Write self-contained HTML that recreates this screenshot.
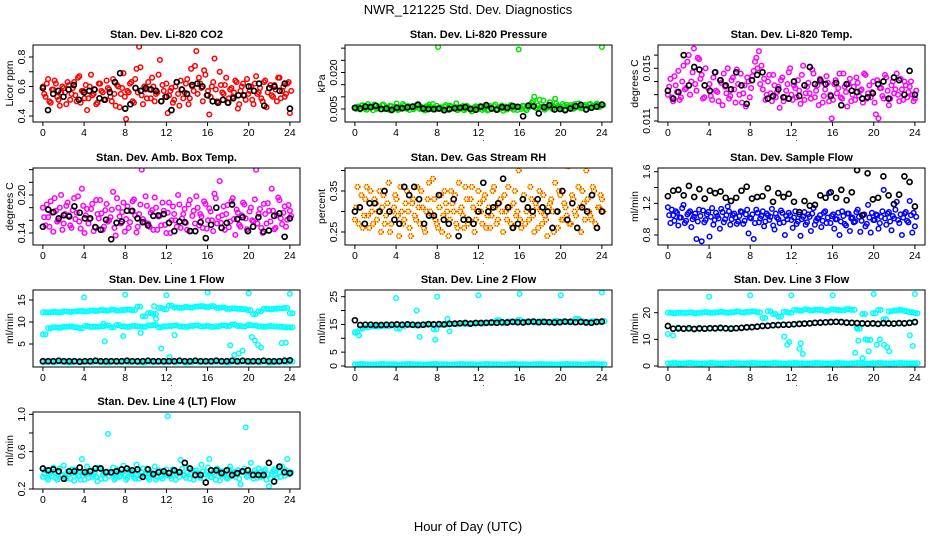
<!DOCTYPE html>
<html><head><meta charset="utf-8">
<style>
html,body{margin:0;padding:0;background:#fff;}
svg{display:block;font-family:"Liberation Sans",Arial,sans-serif;}
</style></head>
<body>
<svg id="chart" width="936" height="540" viewBox="0 0 936 540">
<text x="468" y="14" text-anchor="middle" font-size="13">NWR_121225  Std. Dev. Diagnostics</text>
<text x="468" y="531" text-anchor="middle" font-size="13">Hour of Day (UTC)</text>
</svg>
<script>
// ---- data ----
const xTicks=[0,4,8,12,16,20,24];
const co2Red=[0.60,0.53,0.65,0.49,0.58,0.62,0.51,0.56,0.59,0.48,0.61,0.55,0.63,0.50,0.67,0.57,0.52,0.44,0.60,0.54,0.58,0.49,0.62,0.56,0.51,0.59,0.53,0.65,0.47,0.60,0.55,0.69,0.38,0.56,0.63,0.49,0.72,0.87,0.54,0.60,0.52,0.58,0.66,0.50,0.56,0.78,0.61,0.53,0.42,0.57,0.49,0.60,0.55,0.64,0.52,0.62,0.48,0.72,0.57,0.84,0.66,0.59,0.71,0.54,0.41,0.60,0.79,0.50,0.70,0.56,0.61,0.49,0.58,0.53,0.64,0.45,0.57,0.62,0.51,0.55,0.60,0.48,0.67,0.56,0.52,0.63,0.46,0.59,0.54,0.61,0.50,0.66,0.57,0.53,0.62,0.42];
const co2Red2=[0.55,0.62,0.50,0.58,0.64,0.53,0.47,0.60,0.56,0.63,0.51,0.59,0.54,0.66,0.49,0.57,0.61,0.52,0.68,0.55,0.48,0.62,0.57,0.51,0.64,0.58,0.50,0.55,0.61,0.46,0.59,0.53,0.57,0.62,0.50,0.65,0.56,0.73,0.48,0.58,0.63,0.52,0.60,0.55,0.68,0.50,0.57,0.62,0.54,0.59,0.51,0.63,0.47,0.58,0.56,0.65,0.52,0.60,0.74,0.55,0.62,0.50,0.68,0.57,0.53,0.63,0.58,0.49,0.61,0.55,0.66,0.52,0.59,0.56,0.63,0.48,0.60,0.54,0.65,0.57,0.51,0.62,0.55,0.59,0.50,0.64,0.56,0.61,0.53,0.58,0.66,0.52,0.60,0.55,0.63,0.57];
const co2Black=[0.59,0.44,0.55,0.57,0.53,0.58,0.61,0.51,0.56,0.57,0.58,0.52,0.51,0.56,0.63,0.69,0.45,0.48,0.59,0.57,0.59,0.58,0.57,0.50,0.53,0.44,0.63,0.58,0.55,0.61,0.62,0.60,0.54,0.50,0.49,0.51,0.49,0.52,0.54,0.54,0.60,0.57,0.62,0.47,0.59,0.60,0.57,0.62,0.45];
const presGreen=[0.0055,0.0060,0.0048,0.0065,0.0052,0.0070,0.0058,0.0045,0.0062,0.0055,0.0050,0.0068,0.0057,0.0047,0.0061,0.0053,0.0072,0.0049,0.0058,0.0064,0.0051,0.0046,0.0060,0.0055,0.0067,0.0050,0.0056,0.0044,0.0062,0.0053,0.0070,0.0048,0.0305,0.0057,0.0051,0.0066,0.0046,0.0060,0.0054,0.0073,0.0049,0.0058,0.0045,0.0063,0.0052,0.0040,0.0057,0.0050,0.0061,0.0046,0.0055,0.0044,0.0062,0.0051,0.0068,0.0048,0.0057,0.0043,0.0060,0.0052,0.0066,0.0047,0.0055,0.0295,0.0050,0.0062,0.0045,0.0058,0.0075,0.0100,0.0052,0.0088,0.0060,0.0047,0.0056,0.0078,0.0050,0.0092,0.0063,0.0054,0.0070,0.0048,0.0059,0.0066,0.0051,0.0057,0.0073,0.0053,0.0061,0.0049,0.0068,0.0056,0.0062,0.0072,0.0058,0.0305];
const presGreen2=[0.0050,0.0058,0.0064,0.0053,0.0047,0.0061,0.0056,0.0068,0.0051,0.0059,0.0066,0.0049,0.0055,0.0063,0.0052,0.0060,0.0046,0.0057,0.0070,0.0053,0.0062,0.0056,0.0049,0.0065,0.0054,0.0059,0.0047,0.0061,0.0068,0.0051,0.0057,0.0063,0.0050,0.0055,0.0060,0.0048,0.0064,0.0052,0.0059,0.0045,0.0056,0.0062,0.0050,0.0058,0.0047,0.0054,0.0061,0.0049,0.0056,0.0052,0.0059,0.0047,0.0055,0.0062,0.0050,0.0057,0.0064,0.0052,0.0048,0.0058,0.0054,0.0061,0.0046,0.0057,0.0063,0.0051,0.0059,0.0068,0.0082,0.0055,0.0064,0.0058,0.0085,0.0052,0.0061,0.0066,0.0056,0.0072,0.0059,0.0050,0.0063,0.0067,0.0055,0.0060,0.0070,0.0058,0.0062,0.0054,0.0066,0.0060,0.0071,0.0057,0.0064,0.0068,0.0061,0.0066];
const presBlack=[0.0055,0.0052,0.0060,0.0058,0.0063,0.0050,0.0052,0.0046,0.0055,0.0053,0.0057,0.0060,0.0068,0.0052,0.0050,0.0049,0.0052,0.0045,0.0050,0.0053,0.0055,0.0058,0.0050,0.0047,0.0060,0.0066,0.0052,0.0047,0.0058,0.0055,0.0062,0.0059,0.0020,0.0064,0.0061,0.0032,0.0058,0.0066,0.0048,0.0050,0.0045,0.0052,0.0062,0.0067,0.0048,0.0055,0.0060,0.0068];
const tempMagenta=[0.0130,0.0142,0.0125,0.0137,0.0148,0.0128,0.0152,0.0135,0.0160,0.0140,0.0165,0.0133,0.0157,0.0145,0.0128,0.0170,0.0138,0.0126,0.0147,0.0132,0.0141,0.0122,0.0136,0.0150,0.0129,0.0143,0.0124,0.0138,0.0146,0.0131,0.0121,0.0140,0.0135,0.0148,0.0158,0.0163,0.0152,0.0142,0.0130,0.0145,0.0125,0.0137,0.0132,0.0120,0.0143,0.0128,0.0138,0.0150,0.0126,0.0135,0.0141,0.0123,0.0152,0.0131,0.0139,0.0127,0.0146,0.0133,0.0122,0.0140,0.0129,0.0144,0.0125,0.0112,0.0138,0.0131,0.0146,0.0127,0.0136,0.0121,0.0142,0.0130,0.0126,0.0139,0.0133,0.0124,0.0145,0.0131,0.0128,0.0140,0.0115,0.0112,0.0135,0.0127,0.0143,0.0122,0.0137,0.0131,0.0146,0.0125,0.0134,0.0140,0.0128,0.0136,0.0130,0.0127];
const tempMagenta2=[0.0136,0.0128,0.0144,0.0132,0.0126,0.0140,0.0134,0.0155,0.0130,0.0147,0.0138,0.0158,0.0142,0.0127,0.0150,0.0135,0.0129,0.0143,0.0133,0.0125,0.0139,0.0146,0.0131,0.0127,0.0141,0.0134,0.0149,0.0130,0.0124,0.0137,0.0143,0.0128,0.0144,0.0155,0.0150,0.0138,0.0134,0.0126,0.0140,0.0131,0.0145,0.0128,0.0136,0.0141,0.0125,0.0133,0.0147,0.0130,0.0137,0.0128,0.0133,0.0145,0.0126,0.0136,0.0131,0.0149,0.0128,0.0137,0.0142,0.0124,0.0134,0.0139,0.0130,0.0126,0.0141,0.0135,0.0128,0.0146,0.0132,0.0138,0.0125,0.0136,0.0143,0.0129,0.0134,0.0146,0.0127,0.0137,0.0132,0.0124,0.0141,0.0135,0.0129,0.0145,0.0133,0.0127,0.0140,0.0134,0.0130,0.0142,0.0126,0.0137,0.0132,0.0140,0.0125,0.0133];
const tempBlack=[0.0133,0.0127,0.0132,0.0160,0.0137,0.0151,0.0149,0.0137,0.0133,0.0147,0.0141,0.0137,0.0134,0.0147,0.0137,0.0123,0.0141,0.0145,0.0147,0.0127,0.0129,0.0134,0.0128,0.0127,0.0140,0.0129,0.0137,0.0151,0.0138,0.0141,0.0138,0.0129,0.0139,0.0122,0.0138,0.0133,0.0132,0.0127,0.0128,0.0131,0.0138,0.0140,0.0127,0.0143,0.0141,0.0130,0.0148,0.0130];
const ambMagenta=[0.180,0.152,0.165,0.190,0.142,0.175,0.160,0.200,0.155,0.183,0.168,0.148,0.195,0.172,0.158,0.210,0.140,0.178,0.162,0.186,0.150,0.170,0.192,0.145,0.176,0.158,0.165,0.205,0.136,0.180,0.155,0.188,0.162,0.148,0.174,0.193,0.141,0.170,0.240,0.158,0.183,0.150,0.176,0.196,0.145,0.167,0.188,0.153,0.172,0.140,0.182,0.160,0.200,0.148,0.170,0.156,0.185,0.143,0.175,0.198,0.152,0.166,0.190,0.147,0.179,0.160,0.202,0.155,0.222,0.168,0.145,0.184,0.158,0.195,0.137,0.172,0.150,0.188,0.163,0.143,0.180,0.158,0.240,0.170,0.148,0.186,0.155,0.175,0.210,0.146,0.168,0.192,0.154,0.182,0.161,0.175];
const ambMagenta2=[0.165,0.185,0.150,0.172,0.195,0.158,0.180,0.145,0.170,0.188,0.152,0.176,0.162,0.198,0.147,0.183,0.168,0.155,0.178,0.143,0.192,0.163,0.171,0.150,0.186,0.160,0.177,0.148,0.195,0.166,0.173,0.142,0.182,0.157,0.190,0.168,0.150,0.185,0.162,0.198,0.155,0.172,0.145,0.180,0.166,0.152,0.175,0.140,0.188,0.160,0.170,0.150,0.185,0.163,0.178,0.145,0.192,0.167,0.155,0.180,0.170,0.148,0.186,0.160,0.174,0.143,0.195,0.165,0.156,0.182,0.170,0.149,0.190,0.162,0.177,0.153,0.168,0.185,0.146,0.174,0.160,0.193,0.155,0.178,0.140,0.170,0.187,0.158,0.175,0.148,0.196,0.163,0.172,0.150,0.184,0.167];
const ambBlack=[0.150,0.177,0.173,0.163,0.168,0.166,0.182,0.172,0.163,0.163,0.149,0.145,0.161,0.130,0.156,0.158,0.175,0.175,0.163,0.157,0.152,0.167,0.168,0.170,0.156,0.143,0.158,0.157,0.143,0.143,0.157,0.132,0.153,0.180,0.148,0.156,0.185,0.162,0.165,0.143,0.150,0.165,0.142,0.144,0.167,0.171,0.134,0.163];
const rhOrange=[0.28,0.36,0.31,0.26,0.33,0.29,0.35,0.27,0.32,0.30,0.25,0.34,0.29,0.37,0.27,0.31,0.33,0.24,0.30,0.28,0.35,0.26,0.32,0.29,0.36,0.27,0.31,0.25,0.33,0.30,0.38,0.28,0.26,0.34,0.29,0.32,0.24,0.35,0.30,0.27,0.37,0.31,0.26,0.33,0.28,0.36,0.25,0.30,0.32,0.27,0.34,0.29,0.26,0.35,0.31,0.28,0.33,0.25,0.30,0.36,0.27,0.32,0.29,0.40,0.26,0.34,0.30,0.28,0.33,0.25,0.31,0.35,0.27,0.29,0.24,0.32,0.30,0.37,0.26,0.34,0.28,0.31,0.41,0.27,0.33,0.29,0.36,0.25,0.32,0.40,0.30,0.28,0.35,0.26,0.31,0.33];
const rhOrange2=[0.31,0.27,0.34,0.29,0.36,0.26,0.30,0.33,0.28,0.35,0.31,0.27,0.32,0.25,0.30,0.34,0.29,0.36,0.27,0.32,0.30,0.24,0.33,0.28,0.31,0.35,0.26,0.30,0.37,0.29,0.33,0.27,0.31,0.25,0.35,0.30,0.28,0.32,0.34,0.26,0.30,0.29,0.36,0.27,0.33,0.31,0.28,0.35,0.30,0.33,0.26,0.31,0.29,0.36,0.27,0.32,0.30,0.34,0.28,0.31,0.26,0.35,0.30,0.28,0.33,0.27,0.31,0.36,0.29,0.32,0.26,0.30,0.34,0.28,0.31,0.33,0.25,0.30,0.35,0.28,0.32,0.29,0.27,0.34,0.30,0.26,0.31,0.35,0.28,0.33,0.29,0.36,0.27,0.31,0.34,0.30];
const rhBlack=[0.30,0.31,0.27,0.32,0.32,0.30,0.35,0.30,0.28,0.27,0.36,0.34,0.36,0.33,0.27,0.29,0.29,0.34,0.28,0.27,0.33,0.24,0.28,0.28,0.27,0.30,0.37,0.30,0.31,0.32,0.38,0.31,0.26,0.27,0.33,0.31,0.30,0.33,0.31,0.30,0.26,0.30,0.35,0.28,0.32,0.26,0.31,0.30,0.34,0.26,0.30];
const sampBlue=[1.15,0.95,1.05,1.10,0.92,1.02,1.18,0.98,1.08,0.90,1.03,0.75,1.12,0.72,0.96,1.06,0.78,1.14,0.99,1.04,0.88,1.09,1.00,1.16,0.93,1.05,1.02,0.97,1.10,0.94,1.06,0.82,1.01,0.75,1.12,0.96,1.04,0.91,1.07,0.99,1.13,0.87,1.02,0.95,1.08,0.80,1.00,1.05,0.89,1.10,0.97,0.79,1.03,0.93,1.06,0.85,1.14,0.98,1.01,0.90,1.08,0.95,1.33,1.04,0.88,1.00,0.80,1.10,0.94,1.07,0.85,1.02,0.97,1.12,0.84,1.05,0.91,1.18,0.83,0.99,1.06,0.88,1.03,1.37,0.93,1.09,0.86,1.01,1.22,0.95,0.80,1.07,0.98,1.23,0.83,0.91];
const sampBlue2=[1.05,1.12,0.98,1.08,1.02,1.14,0.95,1.06,1.10,1.00,1.07,0.97,1.04,1.11,0.99,1.09,1.03,0.93,1.08,1.01,1.13,0.96,1.05,1.10,1.00,1.07,0.94,1.04,1.09,0.98,1.12,1.02,1.06,0.95,1.08,1.01,1.10,0.97,1.05,1.03,0.92,1.07,1.00,1.11,0.96,1.04,1.08,0.99,1.02,0.94,1.06,1.00,1.09,0.96,1.03,1.07,0.93,1.01,1.05,0.98,1.10,1.02,0.95,1.06,1.00,1.08,0.97,1.04,0.92,1.07,1.01,0.96,1.09,1.03,0.98,1.06,0.94,1.02,1.08,0.99,1.05,0.95,1.10,1.01,1.07,0.97,1.04,1.12,0.99,1.06,1.02,1.09,0.96,1.05,1.08,1.03];
const sampBlack=[1.29,1.36,1.37,1.30,1.42,1.28,1.38,1.26,1.36,1.33,1.35,1.27,1.23,1.27,1.36,1.41,1.26,1.28,1.29,1.39,1.22,1.33,1.28,1.32,1.22,1.09,1.23,1.17,1.18,1.30,1.27,1.34,1.27,1.37,1.24,1.34,1.62,1.05,1.58,1.25,1.27,1.54,1.30,1.19,1.31,1.54,1.47,1.16];
const l1Upper=[12.2,12.2,12.3,12.2,12.4,12.3,12.4,12.5,12.4,12.6,12.5,12.7,12.6,12.8,12.6,12.7,12.8,12.7,13.5,11.3,12.0,11.8,13.2,12.9,13.7,13.3,13.2,13.4,13.3,13.5,13.6,13.4,13.6,13.2,13.3,13.0,13.1,13.0,12.9,12.7,11.8,12.4,13.0,12.9,13.0,13.1,13.2,12.0];
const l1Middle=[7.2,8.6,8.8,8.7,8.9,9.0,8.8,8.6,9.1,8.9,8.9,9.0,9.2,8.8,9.3,9.0,8.9,9.1,9.0,8.9,9.2,9.3,8.8,9.0,9.1,9.2,9.0,8.9,9.1,9.2,9.0,9.1,8.9,9.0,9.2,9.1,9.4,9.1,9.0,9.3,9.2,9.0,8.9,9.1,9.0,8.9,8.8,8.8];
const l1Bottom=[0.9,1.0,0.9,1.0,0.9,0.8,1.0,0.9,1.0,0.9,1.0,0.9,0.8,1.0,0.9,1.0,0.9,1.0,0.9,0.8,1.0,0.9,1.0,0.9,1.0,0.9,1.0,0.8,0.9,1.0,0.9,1.0,0.9,1.0,0.9,0.8,1.0,0.9,1.0,0.9,1.0,0.9,1.0,0.8,0.9,1.0,0.9,1.0];
const l1OutHour=[4,8,12,16,20,24,6,7.8,9.5,5.9,11,11.5,12.3,18.2,18.6,19,19.4,20.3,20.6,20.9,21.2,23.2,23.6,12.8,10.8];
const l1OutVal=[15.6,16.2,16.1,16.7,16.5,16.4,5.6,6.8,7.5,9.6,10.7,4.0,2.0,4.7,2.5,2.8,3.5,6.6,5.8,4.8,4.2,5.2,5.3,7.0,13.6];
const l1Black=[1.1,1.1,1.1,1.2,1.1,1.1,1.1,1.0,1.1,1.1,1.2,1.1,1.1,1.1,1.1,1.1,1.2,1.1,1.1,1.1,1.2,1.1,1.1,1.1,1.1,1.1,1.2,1.1,1.1,1.2,1.1,1.1,1.1,1.2,1.1,1.1,1.2,1.1,1.2,1.1,1.1,1.1,1.2,1.1,1.1,1.1,1.2,1.3];
const l2Upper=[12.2,13.5,14.0,14.3,14.2,14.5,14.4,14.6,13.5,14.5,14.8,14.7,14.6,14.9,15.0,13.2,14.8,15.0,15.2,15.1,15.3,15.2,15.4,15.5,15.3,15.6,15.5,16.5,15.4,16.0,15.8,16.6,15.9,16.0,15.7,16.1,15.9,15.8,16.2,16.0,15.9,16.1,17.0,16.0,15.8,16.1,15.9,16.2];
const l2Bottom=[0.6,0.7,0.6,0.5,0.6,0.7,0.6,0.6,0.5,0.6,0.7,0.6,0.6,0.5,0.6,0.7,0.6,0.6,0.5,0.6,0.7,0.6,0.6,0.5,0.6,0.7,0.6,0.6,0.5,0.6,0.7,0.6,0.6,0.5,0.6,0.7,0.6,0.6,0.5,0.6,0.7,0.6,0.6,0.5,0.6,0.7,0.6,0.6];
const l2OutHour=[0,0.4,4,6,6.3,7.8,8,9,9.2,12,16,20,21.5,24];
const l2OutVal=[12,11,24.5,20,10.5,9.5,25,17,12.5,25.5,26,25.5,17,26.5];
const l2Black=[16.5,14.8,14.9,14.9,14.8,14.8,14.9,14.9,15.0,14.9,15.0,14.9,14.8,14.9,15.1,15.0,15.1,15.0,15.2,15.3,15.4,15.5,15.3,15.5,15.5,15.6,15.7,15.6,15.8,15.7,15.9,15.8,15.7,15.9,16.0,15.8,15.9,15.8,15.7,15.8,16.0,15.9,15.8,15.9,15.7,15.6,15.9,16.0];
const l3Upper=[20.0,19.8,20.0,19.9,20.1,19.8,20.0,20.2,20.0,20.1,20.3,20.0,20.2,20.4,20.1,20.3,20.5,20.2,18.0,20.5,19.5,18.5,20.3,20.0,21.0,20.8,21.2,20.9,21.1,21.0,20.7,21.2,21.0,20.9,21.3,21.1,14.0,19.5,9.8,19.8,21.0,17.5,20.5,20.8,21.0,20.6,20.2,19.8];
const l3Middle=[12.0,11.5,14.5,14.0,13.8,14.0,13.9,14.1,14.0,14.2,14.0,14.1,14.3,14.2,14.4,14.6,14.5,14.7,15.0,15.0,15.2,15.3,15.4,15.5,15.6,15.6,15.8,16.0,16.1,16.2,16.3,16.4,16.5,16.4,16.2,16.1,14.5,15.9,16.0,15.8,15.9,15.8,15.9,16.0,15.9,16.1,16.0,16.4];
const l3Bottom=[1.0,1.1,0.9,1.0,1.1,1.0,0.9,1.0,1.1,1.0,0.9,1.0,1.1,1.0,0.9,1.0,1.1,1.0,0.9,1.0,1.1,1.0,0.9,1.0,1.1,1.0,0.9,1.0,1.1,1.0,0.9,1.0,1.1,1.0,0.9,1.0,1.1,1.0,0.9,1.0,1.1,1.0,0.9,1.0,1.1,1.0,0.9,1.0];
const l3OutHour=[4,8,12,16,20,24,11.3,11.6,11.8,12.8,12.9,13.1,18.2,18.5,18.9,19.2,19.5,20.3,20.6,21.0,21.3,21.5,23.5,23.8];
const l3OutVal=[26,26.5,26.5,26.5,27,27,11,8,9,6.5,8.5,4.5,5,9.5,3,10,5.5,8,10,8,7,5.5,11.5,7.5];
const l3Black=[15,14,14.1,14,14.2,13.9,14.1,14,14.2,14.1,14.3,14.1,14,14.2,14.3,14.5,14.6,14.8,15.0,15.1,15.3,15.4,15.5,15.5,15.7,15.8,15.9,16.0,16.2,16.3,16.4,16.5,16.6,16.5,16.3,16.2,16.1,16.0,15.9,16.0,15.8,16.1,16.0,15.9,16.1,16.0,16.2,16.5];
const l4Cyan=[0.33,0.40,0.30,0.37,0.43,0.32,0.38,0.35,0.45,0.31,0.36,0.41,0.29,0.38,0.34,0.52,0.30,0.44,0.36,0.33,0.39,0.28,0.42,0.35,0.31,0.79,0.37,0.43,0.32,0.38,0.34,0.45,0.30,0.40,0.36,0.33,0.46,0.31,0.38,0.35,0.42,0.30,0.37,0.44,0.33,0.39,0.31,0.36,0.98,0.34,0.41,0.30,0.38,0.51,0.35,0.32,0.43,0.37,0.30,0.40,0.34,0.46,0.31,0.38,0.52,0.33,0.36,0.42,0.29,0.39,0.35,0.31,0.44,0.37,0.33,0.40,0.25,0.38,0.86,0.34,0.48,0.31,0.37,0.42,0.33,0.39,0.30,0.23,0.36,0.41,0.32,0.38,0.44,0.34,0.52,0.37];
const l4Cyan2=[0.36,0.32,0.40,0.34,0.38,0.30,0.42,0.35,0.33,0.39,0.31,0.37,0.41,0.34,0.30,0.38,0.36,0.32,0.40,0.35,0.33,0.43,0.31,0.37,0.39,0.34,0.36,0.30,0.41,0.33,0.38,0.35,0.32,0.40,0.37,0.31,0.39,0.34,0.42,0.36,0.32,0.38,0.35,0.30,0.40,0.33,0.37,0.41,0.34,0.31,0.39,0.36,0.33,0.42,0.35,0.38,0.31,0.40,0.34,0.37,0.32,0.39,0.36,0.43,0.33,0.38,0.30,0.40,0.35,0.37,0.32,0.41,0.34,0.38,0.36,0.31,0.39,0.42,0.33,0.37,0.35,0.40,0.32,0.38,0.34,0.41,0.36,0.31,0.39,0.35,0.42,0.33,0.37,0.40,0.36,0.38];
const l4Black=[0.42,0.40,0.41,0.39,0.31,0.39,0.39,0.43,0.38,0.39,0.42,0.42,0.38,0.38,0.39,0.41,0.42,0.40,0.41,0.33,0.41,0.36,0.38,0.39,0.37,0.40,0.38,0.48,0.42,0.35,0.35,0.27,0.40,0.40,0.37,0.40,0.35,0.37,0.39,0.40,0.35,0.35,0.35,0.48,0.28,0.44,0.38,0.37];

// ---- layout ----
const colLeft=[33,345,658], rowTop=[45,168,290,412], boxW=267, boxH=77;
function xScale(left,h){return left+9.9+h*(247/24);}
const panels=[
 {id:'co2',c:0,r:0,title:'Stan. Dev. Li-820 CO2',ylab:'Licor ppm',cal:[0.4,116,0.8,57],ticks:[0.4,0.5,0.6,0.7,0.8],labels:[0.4,0.6,0.8],fmt:v=>v.toFixed(1),
  series:[{v:co2Red,col:'#ff0000'},{v:co2Red2,col:'#ff0000',off:0.5},{v:co2Black,col:'#000',blk:1}]},
 {id:'pressure',c:1,r:0,title:'Stan. Dev. Li-820 Pressure',ylab:'kPa',cal:[0.005,109,0.020,72.5],ticks:[0.005,0.010,0.015,0.020,0.025,0.030],labels:[0.005,0.020],fmt:v=>v.toFixed(3),
  series:[{v:presGreen,col:'#00e000'},{v:presGreen2,col:'#00e000',off:0.5},{v:presBlack,col:'#000',blk:1}]},
 {id:'li820-temp',c:2,r:0,title:'Stan. Dev. Li-820 Temp.',ylab:'degrees C',cal:[0.011,121,0.015,68.3],ticks:[0.011,0.012,0.013,0.014,0.015,0.016],labels:[0.011,0.015],fmt:v=>v.toFixed(3),
  series:[{v:tempMagenta,col:'#ff00ff'},{v:tempMagenta2,col:'#ff00ff',off:0.5},{v:tempBlack,col:'#000',blk:1}]},
 {id:'amb-box-temp',c:0,r:1,title:'Stan. Dev. Amb. Box Temp.',ylab:'degrees C',cal:[0.14,233,0.20,195],ticks:[0.14,0.16,0.18,0.20,0.22,0.24],labels:[0.14,0.20],fmt:v=>v.toFixed(2),
  series:[{v:ambMagenta,col:'#ff00ff'},{v:ambMagenta2,col:'#ff00ff',off:0.5},{v:ambBlack,col:'#000',blk:1}]},
 {id:'gas-stream-rh',c:1,r:1,title:'Stan. Dev. Gas Stream RH',ylab:'percent',cal:[0.25,232,0.35,191],ticks:[0.25,0.30,0.35,0.40],labels:[0.25,0.35],fmt:v=>v.toFixed(2),
  series:[{v:rhOrange,col:'#ffee00',dash:'#ff2000'},{v:rhOrange2,col:'#ffee00',dash:'#ff2000',off:0.5},{v:rhBlack,col:'#000',blk:1}]},
 {id:'sample-flow',c:2,r:1,title:'Stan. Dev. Sample Flow',ylab:'ml/min',cal:[0.8,235,1.6,171.7],ticks:[0.8,1.0,1.2,1.4,1.6],labels:[0.8,1.2,1.6],fmt:v=>v.toFixed(1),
  series:[{v:sampBlue,col:'#0000ff'},{v:sampBlue2,col:'#0000ff',off:0.5},{v:sampBlack,col:'#000',blk:1}]},
 {id:'line1-flow',c:0,r:2,title:'Stan. Dev. Line 1 Flow',ylab:'ml/min',cal:[0,366,15,300],ticks:[5,10,15],labels:[5,10,15],fmt:v=>String(v),
  series:[{v:l1Upper,col:'#00ffff'},{v:l1Upper,col:'#00ffff',off:0.5},{v:l1Middle,col:'#00ffff'},{v:l1Middle,col:'#00ffff',off:0.5},{v:l1Bottom,col:'#00ffff'},{v:l1Bottom,col:'#00ffff',off:0.5},{v:l1OutVal,h:l1OutHour,col:'#00ffff'},{v:l1Black,col:'#000',blk:1}]},
 {id:'line2-flow',c:1,r:2,title:'Stan. Dev. Line 2 Flow',ylab:'ml/min',cal:[0,366,25,296.7],ticks:[0,5,10,15,20,25],labels:[0,5,15,25],fmt:v=>String(v),
  series:[{v:l2Upper,col:'#00ffff'},{v:l2Upper,col:'#00ffff',off:0.5},{v:l2Bottom,col:'#00ffff'},{v:l2Bottom,col:'#00ffff',off:0.5},{v:l2OutVal,h:l2OutHour,col:'#00ffff'},{v:l2Black,col:'#000',blk:1}]},
 {id:'line3-flow',c:2,r:2,title:'Stan. Dev. Line 3 Flow',ylab:'ml/min',cal:[0,366,20,312.7],ticks:[0,10,20],labels:[0,10,20],fmt:v=>String(v),
  series:[{v:l3Upper,col:'#00ffff'},{v:l3Upper,col:'#00ffff',off:0.5},{v:l3Middle,col:'#00ffff'},{v:l3Bottom,col:'#00ffff'},{v:l3Bottom,col:'#00ffff',off:0.5},{v:l3OutVal,h:l3OutHour,col:'#00ffff'},{v:l3Black,col:'#000',blk:1}]},
 {id:'line4-flow',c:0,r:3,title:'Stan. Dev. Line 4 (LT) Flow',ylab:'ml/min',cal:[0.2,489,1.0,414.3],ticks:[0.2,0.4,0.6,0.8,1.0],labels:[0.2,0.6,1.0],fmt:v=>v.toFixed(1),
  series:[{v:l4Cyan,col:'#00ffff'},{v:l4Cyan2,col:'#00ffff',off:0.5},{v:l4Black,col:'#000',blk:1}]}
];
const NS='http://www.w3.org/2000/svg';
const svg=document.getElementById('chart');
function mk(tag,attrs,parent){const e=document.createElementNS(NS,tag);for(const k in attrs)e.setAttribute(k,attrs[k]);parent.appendChild(e);return e;}
panels.forEach(p=>{
  const L=colLeft[p.c],T=rowTop[p.r],B=T+boxH,R=L+boxW;
  const [v0,p0,v1,p1]=p.cal;
  const yS=v=>p0+(v-v0)*(p1-p0)/(v1-v0);
  const g=mk('g',{},svg);
  
  
  const t=mk('text',{x:(L+R)/2,y:T-7,'text-anchor':'middle','font-size':11,'font-weight':'bold'},g);
  t.textContent=p.title;
  
  
  const cp=mk('clipPath',{id:'cp-'+p.id},g);
  mk('rect',{x:L,y:T,width:boxW,height:boxH},cp);
  const pts=mk('g',{'clip-path':'url(#cp-'+p.id+')'},g);
  
  
  p.series.forEach(s=>{
    const n=s.v.length, off=s.off||0;
    s.v.forEach((v,i)=>{
      const h=s.h?s.h[i]:(i+off)*24/(n-1);
      if(h>24.3)return;
      const cx=xScale(L,h), cy=yS(v);
      const c=mk('circle',{cx:cx.toFixed(1),cy:cy.toFixed(1),r:s.blk?2.5:2.3,fill:'none',stroke:s.col,'stroke-width':s.blk?1.7:1.5},pts);
      
      
      if(s.dash){
        const d=mk('circle',{cx:cx.toFixed(1),cy:cy.toFixed(1),r:2.3,fill:'none',stroke:s.dash,'stroke-width':1.5,'stroke-dasharray':'1 1.2'},pts);
        
        
      }
    });
  });
  const box=mk('rect',{x:L,y:T,width:boxW,height:boxH,fill:'none',stroke:'#000','stroke-width':1},g);
  
  
  xTicks.forEach(h=>{
    const x=xScale(L,h);
    mk('line',{x1:x,y1:B,x2:x,y2:B+4,stroke:'#000'},g);
    const tl=mk('text',{x:x,y:B+14,'text-anchor':'middle','font-size':10.5},g);
    tl.textContent=String(h);
    
    
  });
  const dot=mk('text',{x:(L+R)/2+5,y:B+19,'text-anchor':'middle','font-size':8},g);
  dot.textContent='.';
  p.ticks.forEach(v=>{const y=yS(v);if(y<T-1)return;mk('line',{x1:L-4,y1:y,x2:L,y2:y,stroke:'#000'},g);});
  p.labels.forEach(v=>{
    const y=yS(v),x=L-8;
    const yl=mk('text',{x:x,y:y,'text-anchor':'middle','font-size':10.5,transform:`rotate(-90 ${x} ${y})`},g);
    yl.textContent=p.fmt(v);
    
    
  });
  const yx=L-20,yy=(T+B)/2;
  const ylab=mk('text',{x:yx,y:yy,'text-anchor':'middle','font-size':10.5,transform:`rotate(-90 ${yx} ${yy})`},g);
  ylab.textContent=p.ylab;
  
  
});
</script>
</body></html>
